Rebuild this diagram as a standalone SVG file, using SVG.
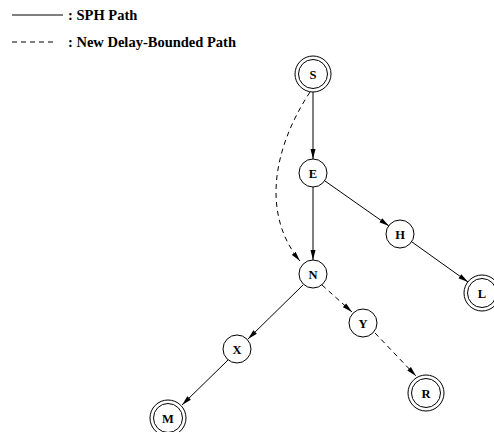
<svg xmlns="http://www.w3.org/2000/svg" width="494" height="432" viewBox="0 0 494 432">
<style>
.n{fill:#fff;stroke:#000;stroke-width:1}
.t{font-family:"Liberation Serif",serif;font-weight:bold;font-size:12.5px;text-anchor:middle;fill:#000}
.lg{font-family:"Liberation Serif",serif;font-weight:bold;font-size:14.5px;fill:#000}
.e{fill:none;stroke:#000;stroke-width:1}
.d{stroke-dasharray:5,4}
</style>
<defs>
<marker id="a" markerWidth="10" markerHeight="6" refX="10" refY="3" orient="auto" markerUnits="userSpaceOnUse">
<path d="M0,0.5 L10,3 L0,5.5 Z" fill="#000"/>
</marker>
</defs>
<g id="legend">
<line class="e" x1="12" y1="15" x2="63" y2="15"/>
<text class="lg" x="68" y="20">: SPH Path</text>
<line class="e d" x1="12" y1="42" x2="53" y2="42"/>
<text class="lg" x="68" y="47">: New Delay-Bounded Path</text>
</g>
<g id="connectors">
<line class="e" x1="313" y1="92" x2="313" y2="159" marker-end="url(#a)"/>
<line class="e" x1="313" y1="187" x2="313" y2="260" marker-end="url(#a)"/>
<line class="e" x1="325" y1="181" x2="389" y2="226" marker-end="url(#a)"/>
<line class="e" x1="412" y1="242" x2="468" y2="282" marker-end="url(#a)"/>
<line class="e" x1="303" y1="285" x2="248" y2="339" marker-end="url(#a)"/>
<line class="e" x1="228" y1="360" x2="182" y2="405" marker-end="url(#a)"/>
<path class="e d" d="M310,92 C272,150 262,215 300,261" marker-end="url(#a)"/>
<line class="e d" x1="322" y1="285" x2="352" y2="312" marker-end="url(#a)"/>
<line class="e d" x1="375" y1="333" x2="416" y2="376" marker-end="url(#a)"/>
</g>
<g id="S"><circle class="n" cx="313" cy="74" r="18"/><circle class="n" cx="313" cy="74" r="14.5"/><text class="t" x="313" y="78.5">S</text></g>
<g id="E"><circle class="n" cx="313" cy="173" r="14"/><text class="t" x="313" y="177.5">E</text></g>
<g id="H"><circle class="n" cx="400" cy="234" r="14"/><text class="t" x="400" y="238.5">H</text></g>
<g id="L"><circle class="n" cx="482" cy="293" r="18"/><circle class="n" cx="482" cy="293" r="14.5"/><text class="t" x="482" y="297.5">L</text></g>
<g id="N"><circle class="n" cx="313" cy="274" r="14"/><text class="t" x="313" y="278.5">N</text></g>
<g id="Y"><circle class="n" cx="363" cy="323" r="14"/><text class="t" x="363" y="327.5">Y</text></g>
<g id="X"><circle class="n" cx="237" cy="349" r="14"/><text class="t" x="237" y="353.5">X</text></g>
<g id="M"><circle class="n" cx="168" cy="418" r="18"/><circle class="n" cx="168" cy="418" r="14.5"/><text class="t" x="168" y="422.5">M</text></g>
<g id="R"><circle class="n" cx="426" cy="393" r="18"/><circle class="n" cx="426" cy="393" r="14.5"/><text class="t" x="426" y="397.5">R</text></g>
</svg>
